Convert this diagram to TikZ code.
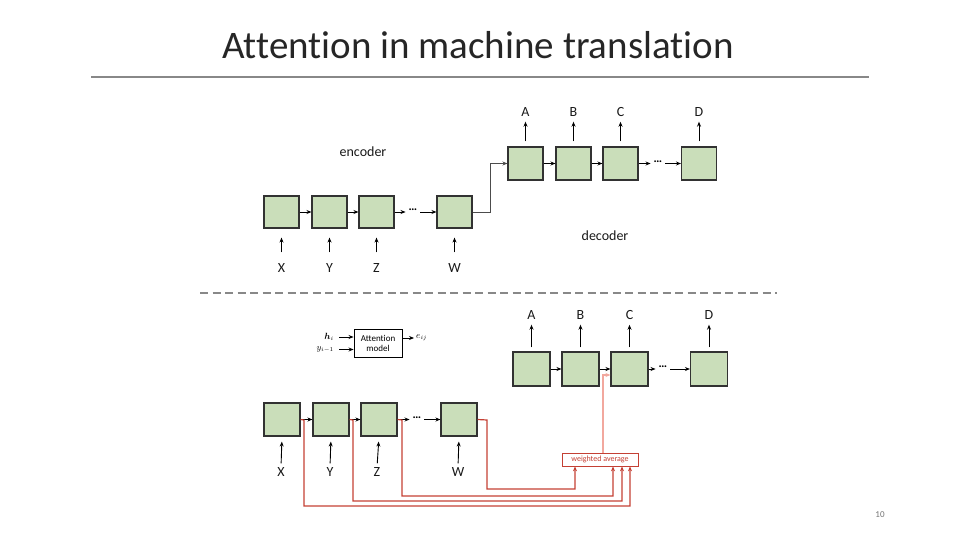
\documentclass[tikz,border=0pt]{standalone}
\usepackage{amsmath}
\usepackage{fontspec}
\setmainfont{Carlito}[Ligatures={NoCommon,NoContextual}]
\usetikzlibrary{arrows.meta,calc}
\definecolor{boxgreen}{RGB}{202,222,186}
\definecolor{boxline}{RGB}{50,50,50}
\definecolor{darkred}{RGB}{196,64,52}
\definecolor{palered}{RGB}{242,168,158}
\definecolor{rulegray}{RGB}{136,136,136}
\begin{document}
\begin{tikzpicture}[x=1pt,y=-1pt,
  cell/.style={draw=boxline,line width=1.1pt,fill=boxgreen,minimum width=35pt,minimum height=32pt,inner sep=0pt},
  cellb/.style={cell,minimum width=36pt,minimum height=33pt},
  lab/.style={font=\fontsize{14}{14}\selectfont,inner sep=0pt,text=black!90},
  arr/.style={-{Stealth[length=5pt,width=4pt]},line width=0.9pt,black},
  redarr/.style={-{Stealth[length=5pt,width=4pt]},line width=1.2pt,darkred},
  palearr/.style={-{Stealth[length=5pt,width=4pt]},line width=1.2pt,palered},
  dotsn/.style={inner sep=0pt,font=\fontsize{12}{12}\selectfont\bfseries}
]
\useasboundingbox (0,0) rectangle (960,540);
% title
\node[anchor=base,inner sep=0pt,font=\fontsize{39}{39}\selectfont,text=black!85] (title) at (478,59) {Attention in machine translation};
\coordinate (tl) at (91,77);
\coordinate (tr) at (869,77);
\draw[rulegray,line width=2.6pt] (tl) -- (tr);

% ---------- top: encoder ----------
\node[cell] (e1) at (281.5,212) {};
\node[cell] (e2) at (329.5,212) {};
\node[cell] (e3) at (376.5,212) {};
\node[dotsn] (edots) at (413,210) {…};
\node[cell] (e4) at (454.5,212) {};
\draw[arr] (e1) -- (e2);
\draw[arr] (e2) -- (e3);
\draw[arr,shorten >=3pt] (e3) -- (edots.west |- e3);
\draw[arr,shorten <=3pt] (edots.east |- e4) -- (e4);

\node[lab] (X) at (281.5,268) {X};
\node[lab] (Y) at (329.5,268) {Y};
\node[lab] (Z) at (376.5,268) {Z};
\node[lab] (W) at (454.5,268) {W};
\foreach \a/\b in {X/e1,Y/e2,Z/e3,W/e4}
  \draw[arr,shorten <=11pt,shorten >=9pt] (\a.north) -- (\b.south);

\node[lab] (enc) at (363,152) {encoder};
\node[lab] (dec) at (605,236) {decoder};

% ---------- top: decoder ----------
\node[cell,minimum height=33pt] (d1) at (525.5,163.5) {};
\node[cell,minimum height=33pt] (d2) at (573.5,163.5) {};
\node[cell,minimum height=33pt] (d3) at (620.5,163.5) {};
\node[dotsn] (ddots) at (658,161.5) {…};
\node[cell,minimum height=33pt] (d4) at (699,163.5) {};
\draw[arr] (d1) -- (d2);
\draw[arr] (d2) -- (d3);
\draw[arr,shorten >=3pt] (d3) -- (ddots.west |- d3);
\draw[arr,shorten <=3pt] (ddots.east |- d4) -- (d4);

\node[lab] (A) at (525.5,112) {A};
\node[lab] (B) at (573.5,112) {B};
\node[lab] (C) at (620.5,112) {C};
\node[lab] (D) at (699,112) {D};
\foreach \a/\b in {A/d1,B/d2,C/d3,D/d4}
  \draw[arr,shorten <=5pt,shorten >=5pt] (\b.north) -- (\a.south);

\coordinate (bend) at (490,212);
\draw[arr,black!70] (e4.east) -- (bend) |- (d1.west);

% dashed separator
\coordinate (sl) at (200,293);
\coordinate (sr) at (777,293);
\draw[rulegray,line width=2.6pt,dash pattern=on 8pt off 4.5pt] (sl) -- (sr);

% ---------- bottom: attention model ----------
\node[draw,line width=0.9pt,minimum width=48pt,minimum height=28pt,inner sep=0pt,align=center,
      font=\fontsize{9}{10}\selectfont] (att) at (378,343) {Attention\\model};
\node[inner sep=0pt,font=\fontsize{9}{9}\selectfont,anchor=east] (hi) at (334,337) {$\boldsymbol{h}_i$};
\node[inner sep=0pt,font=\fontsize{9}{9}\selectfont,anchor=east] (yi) at (334,349.5) {$y_{i-1}$};
\node[inner sep=0pt,font=\fontsize{9}{9}\selectfont,anchor=west] (eij) at (416,338) {$e_{ij}$};
\draw[arr,shorten <=5pt] (hi.east) -- (hi.east -| att.west);
\draw[arr,shorten <=5pt] (yi.east) -- (yi.east -| att.west);
\draw[arr,shorten >=2pt] (att.east |- eij) -- (eij.west);

% ---------- bottom: encoder ----------
\node[cellb] (b1) at (282,419.5) {};
\node[cellb] (b2) at (331,419.5) {};
\node[cellb] (b3) at (379,419.5) {};
\node[dotsn] (bdots) at (417,417.5) {…};
\node[cellb] (b4) at (459,419.5) {};
\draw[arr] (b1) -- (b2);
\draw[arr] (b2) -- (b3);
\draw[arr,shorten >=3pt] (b3) -- (bdots.west |- b3);
\draw[arr,shorten <=3pt] (bdots.east |- b4) -- (b4);

\node[lab] (X2) at (281,472) {X};
\node[lab] (Y2) at (330,472) {Y};
\node[lab] (Z2) at (377,472) {Z};
\node[lab] (W2) at (458,472) {W};
\foreach \a/\b in {X2/b1,Y2/b2,Z2/b3,W2/b4}
  \draw[arr,shorten <=4pt,shorten >=5pt] (\a.north) -- (\b.south);

% ---------- bottom: decoder ----------
\node[cell,minimum width=37pt,minimum height=34pt] (c1) at (531.5,369) {};
\node[cell,minimum width=37pt,minimum height=34pt] (c2) at (580.5,369) {};
\node[cell,minimum width=37pt,minimum height=34pt] (c3) at (629.5,369) {};
\node[dotsn] (cdots) at (663,367) {…};
\node[cell,minimum width=37pt,minimum height=34pt] (c4) at (709,369) {};
\draw[arr] (c1) -- (c2);
\draw[arr] (c2) -- (c3);
\draw[arr,shorten >=3pt] (c3) -- (cdots.west |- c3);
\draw[arr,shorten <=3pt] (cdots.east |- c4) -- (c4);

\node[lab] (A2) at (531.5,315) {A};
\node[lab] (B2) at (580.5,315) {B};
\node[lab] (C2) at (629.5,315) {C};
\node[lab] (D2) at (709,315) {D};
\foreach \a/\b in {A2/c1,B2/c2,C2/c3,D2/c4}
  \draw[arr,shorten <=4pt,shorten >=5pt] (\b.north) -- (\a.south);

% ---------- weighted average ----------
\node[draw=darkred,line width=0.7pt,fill=white,minimum width=76pt,minimum height=13pt,inner sep=0pt,
      text=darkred,font=\fontsize{8}{8}\selectfont] (wa) at (600,459.5) {weighted average};

\coordinate (r4a) at (487,420);  \coordinate (r4b) at (575,489);
\coordinate (r3a) at (402,420);  \coordinate (r3b) at (613,496);
\coordinate (r2a) at (353,420);  \coordinate (r2b) at (622,501);
\coordinate (r1a) at (304,420);  \coordinate (r1b) at (630,506);
\draw[redarr] (b4.east) -- (r4a) |- (r4b) -- (r4b |- wa.south);
\draw[redarr] (b3.east) -- (r3a) |- (r3b) -- (r3b |- wa.south);
\draw[redarr] (b2.east) -- (r2a) |- (r2b) -- (r2b |- wa.south);
\draw[redarr] (b1.east) -- (r1a) |- (r1b) -- (r1b |- wa.south);

\coordinate (up) at (603,375);
\draw[palearr] (wa.north -| up) -- (up) -- (up -| c3.west);

% page number
\node[inner sep=0pt,font=\fontsize{9}{9}\selectfont,text=black!55] (pg) at (880,515) {10};
\end{tikzpicture}
\end{document}
